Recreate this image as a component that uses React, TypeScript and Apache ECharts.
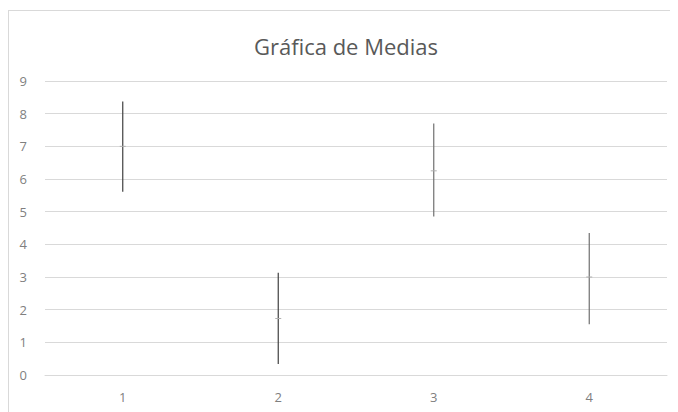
import React, { useEffect, useRef } from "react";
import * as echarts from "echarts";

const categories = ["1", "2", "3", "4"];
const lowValues = [5.61, 0.34, 4.85, 1.55];
const highValues = [8.37, 3.13, 7.7, 4.35];
const meanValues = [7.0, 1.73, 6.25, 3.0];
const yTicks = { min: 0, max: 9, interval: 1 };

export default function App() {
  const ref = useRef<HTMLDivElement>(null);
  useEffect(() => {
    if (!ref.current) return;
    const chart = echarts.init(ref.current, undefined, { renderer: "svg" });
    const data = categories.map((c, i) => [i, lowValues[i], highValues[i], meanValues[i]]);
    chart.setOption({
      animation: false,
      backgroundColor: "#ffffff",
      title: {
        text: "Gráfica de Medias",
        left: 240,
        top: 19,
        textStyle: {
          fontFamily: "Open Sans",
          fontSize: 22,
          fontWeight: "normal",
          color: "#595959",
        },
      },
      grid: { left: 36, right: 10, top: 70, bottom: 38 },
      xAxis: {
        type: "category",
        data: categories,
        axisLine: { show: true, lineStyle: { color: "#d9d9d9" } },
        axisTick: { show: false },
        axisLabel: { color: "#7f7f7f", fontSize: 13, fontFamily: "Open Sans", margin: 15 },
        splitLine: { show: false },
      },
      yAxis: {
        type: "value",
        min: yTicks.min,
        max: yTicks.max,
        interval: yTicks.interval,
        axisLine: { show: false },
        axisTick: { show: false },
        axisLabel: { color: "#7f7f7f", fontSize: 13, fontFamily: "Open Sans", margin: 18 },
        splitLine: { lineStyle: { color: "#d9d9d9" } },
      },
      series: [
        {
          type: "custom",
          data,
          encode: { x: 0, y: [1, 2, 3] },
          renderItem: (params: any, api: any) => {
            const x = api.value(0);
            const lo = api.coord([x, api.value(1)]);
            const hi = api.coord([x, api.value(2)]);
            const mn = api.coord([x, api.value(3)]);
            const idx = params.dataIndex;
            const col = idx < 2 ? "#404040" : "#707070";
            return {
              type: "group",
              children: [
                {
                  type: "line",
                  shape: { x1: lo[0], y1: lo[1], x2: hi[0], y2: hi[1] },
                  style: { stroke: col, lineWidth: 1.2 },
                },
                {
                  type: "line",
                  shape: { x1: mn[0] - 3, y1: mn[1], x2: mn[0] + 3, y2: mn[1] },
                  style: { stroke: "#b0b0b0", lineWidth: 1 },
                },
              ],
            };
          },
        },
      ],
    });
    return () => chart.dispose();
  }, []);
  return (
    <div
      style={{
        width: 668,
        height: 402,
        marginTop: 2,
        border: "1px solid #d9d9d9",
      }}
    >
      <div ref={ref} style={{ width: 668, height: 402 }} />
    </div>
  );
}
